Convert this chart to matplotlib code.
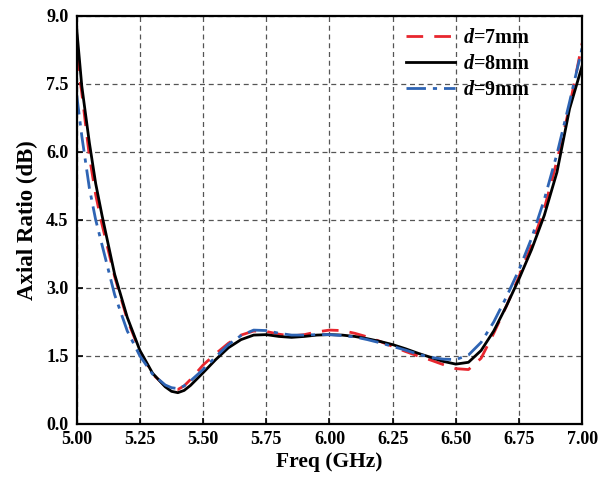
import matplotlib.pyplot as plt
import numpy as np

plt.rcParams['font.family'] = 'Liberation Serif'
plt.rcParams['font.weight'] = 'bold'
plt.rcParams['mathtext.fontset'] = 'custom'
plt.rcParams['mathtext.it'] = 'Liberation Serif:italic:bold'
plt.rcParams['mathtext.rm'] = 'Liberation Serif:bold'

# frequency points (GHz)
freq = [5.00, 5.02, 5.05, 5.075, 5.10, 5.15, 5.20, 5.25, 5.30, 5.35, 5.375, 5.40,
        5.425, 5.45, 5.50, 5.55, 5.60, 5.65, 5.70, 5.75, 5.80, 5.85, 5.90, 5.95,
        6.00, 6.05, 6.10, 6.15, 6.20, 6.25, 6.30, 6.35, 6.40, 6.45, 6.50, 6.55,
        6.60, 6.65, 6.70, 6.75, 6.80, 6.85, 6.90, 6.95, 7.00]

# axial ratio (dB) for each d
ar_d7 = [8.15, 7.30, 5.90, 5.05, 4.40, 3.25, 2.30, 1.60, 1.10, 0.84, 0.77, 0.76,
         0.84, 0.98, 1.30, 1.55, 1.78, 1.96, 2.05, 2.04, 1.98, 1.94, 1.97, 2.03,
         2.07, 2.06, 2.00, 1.92, 1.82, 1.71, 1.60, 1.50, 1.41, 1.31, 1.22, 1.20,
         1.45, 2.00, 2.60, 3.25, 3.95, 4.75, 5.80, 7.00, 8.40]
ar_d8 = [8.70, 7.45, 6.20, 5.30, 4.60, 3.30, 2.35, 1.62, 1.12, 0.82, 0.72, 0.69,
         0.74, 0.85, 1.13, 1.42, 1.68, 1.86, 1.96, 1.97, 1.93, 1.91, 1.93, 1.96,
         1.97, 1.96, 1.93, 1.88, 1.82, 1.75, 1.66, 1.56, 1.47, 1.38, 1.32, 1.36,
         1.62, 2.05, 2.60, 3.20, 3.85, 4.60, 5.55, 6.95, 7.90]
ar_d9 = [7.25, 6.35, 5.20, 4.50, 3.95, 2.85, 2.05, 1.50, 1.10, 0.86, 0.80, 0.78,
         0.84, 0.95, 1.20, 1.48, 1.75, 1.95, 2.07, 2.06, 2.00, 1.96, 1.96, 1.97,
         1.97, 1.95, 1.92, 1.86, 1.79, 1.71, 1.63, 1.54, 1.47, 1.43, 1.42, 1.52,
         1.80, 2.25, 2.80, 3.40, 4.10, 4.95, 5.95, 7.10, 8.30]

xticks = [5.00, 5.25, 5.50, 5.75, 6.00, 6.25, 6.50, 6.75, 7.00]
yticks = [0.0, 1.5, 3.0, 4.5, 6.0, 7.5, 9.0]

fig = plt.figure(figsize=(6.09, 4.78), dpi=100)
ax = fig.add_axes([0.126, 0.113, 0.830, 0.854])

ax.plot(freq, ar_d7, color='#e8262e', linestyle=(0, (6, 4)), linewidth=2, label=r'$\mathit{d}$=7mm')
ax.plot(freq, ar_d8, color='black', linestyle='-', linewidth=2, label=r'$\mathit{d}$=8mm')
ax.plot(freq, ar_d9, color='#2e64b4', linestyle=(0, (7, 2.5, 1.5, 2.5)), linewidth=2, label=r'$\mathit{d}$=9mm')

ax.set_xlim(5.0, 7.0)
ax.set_ylim(0.0, 9.0)
ax.set_xticks(xticks)
ax.set_yticks(yticks)
ax.set_xticklabels(['%.2f' % v for v in xticks], fontsize=13, fontweight='bold')
ax.set_yticklabels(['%.1f' % v for v in yticks], fontsize=13, fontweight='bold')
ax.tick_params(axis='x', direction='in', length=4, width=1.2, pad=5)
ax.tick_params(axis='y', direction='in', length=4, width=1.2, pad=6)

ax.set_xlabel('Freq (GHz)', fontsize=15.5, fontweight='bold', labelpad=3)
ax.set_ylabel('Axial Ratio (dB)', fontsize=16.5, fontweight='bold', labelpad=6)

ax.grid(True, linestyle=(0, (4, 3)), color='#555555', linewidth=0.9)
for s in ax.spines.values():
    s.set_linewidth(1.6)

leg = ax.legend(loc='upper right', frameon=False, fontsize=14.5, handlelength=2.4,
                handletextpad=0.4, labelspacing=0.3, borderaxespad=0.2,
                bbox_to_anchor=(0.92, 1.0))

fig.savefig('out.png', dpi=100)
